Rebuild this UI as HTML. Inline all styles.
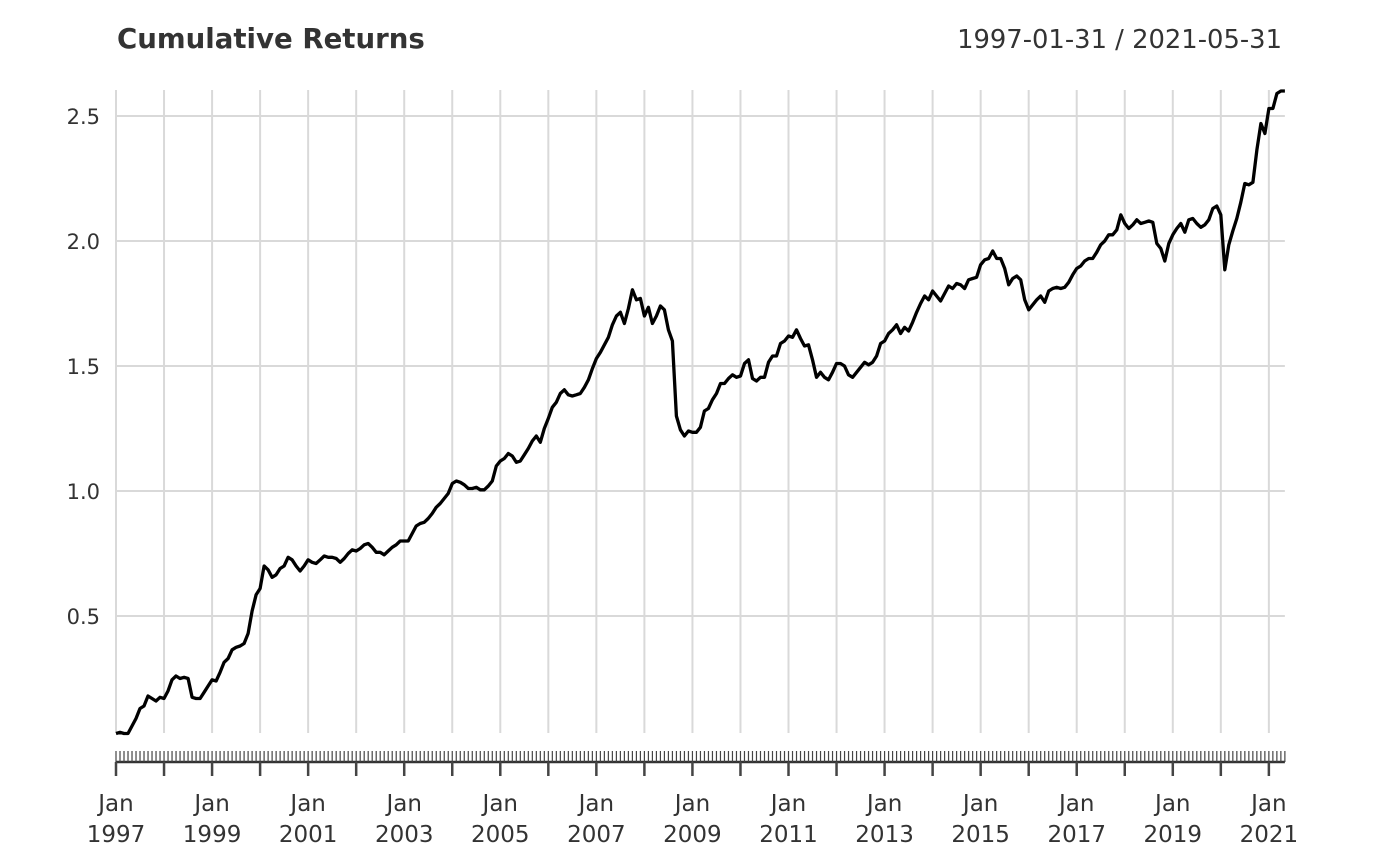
<!DOCTYPE html>
<html><head><meta charset="utf-8"><style>
html,body{margin:0;padding:0;background:#fff;}
svg{display:block;font-family:"DejaVu Sans","Liberation Sans",sans-serif;}
</style></head><body>
<svg id="chart" width="1400" height="866" viewBox="0 0 1400 866">
<text x="117" y="48" font-size="27.6" font-weight="bold" fill="#333">Cumulative Returns</text>
<text x="1282" y="48" font-size="25.8" fill="#333" text-anchor="end">1997-01-31 / 2021-05-31</text>
<g id="grid"></g><g id="yaxis"></g><g id="xaxis"></g><g id="series"></g>
</svg>
<script>
const startYear = 1997;
const yTicks = [0.5, 1.0, 1.5, 2.0, 2.5];
const yTickLabels = ["0.5", "1.0", "1.5", "2.0", "2.5"];
const xLabelYears = [1997,1999,2001,2003,2005,2007,2009,2011,2013,2015,2017,2019,2021];
const returns = [
0.03,0.035,0.03,0.03,0.06,0.09,0.13,0.14,0.18,0.17,0.16,0.175,
0.17,0.2,0.245,0.26,0.25,0.255,0.25,0.175,0.17,0.17,0.195,0.22,
0.245,0.24,0.275,0.315,0.33,0.365,0.375,0.38,0.39,0.43,0.52,0.585,
0.61,0.70,0.685,0.655,0.665,0.69,0.70,0.735,0.725,0.70,0.68,0.70,
0.725,0.715,0.71,0.725,0.74,0.735,0.735,0.73,0.715,0.73,0.75,0.765,
0.76,0.77,0.785,0.79,0.775,0.755,0.755,0.745,0.76,0.775,0.785,0.80,
0.80,0.80,0.83,0.86,0.87,0.875,0.89,0.91,0.935,0.95,0.97,0.99,
1.03,1.04,1.035,1.025,1.01,1.01,1.015,1.005,1.005,1.02,1.04,1.10,
1.12,1.13,1.15,1.14,1.115,1.12,1.145,1.17,1.20,1.22,1.195,1.25,
1.29,1.335,1.355,1.39,1.405,1.385,1.38,1.385,1.39,1.415,1.445,1.49,
1.53,1.555,1.585,1.615,1.665,1.70,1.715,1.67,1.73,1.805,1.765,1.77,
1.70,1.735,1.67,1.70,1.74,1.725,1.645,1.60,1.30,1.245,1.22,1.24,
1.235,1.235,1.255,1.32,1.33,1.365,1.39,1.43,1.43,1.45,1.465,1.455,
1.46,1.51,1.525,1.45,1.44,1.455,1.455,1.515,1.54,1.54,1.59,1.60,
1.62,1.615,1.645,1.61,1.58,1.585,1.525,1.455,1.475,1.455,1.445,1.475,
1.51,1.51,1.50,1.465,1.455,1.475,1.495,1.515,1.505,1.515,1.54,1.59,
1.60,1.63,1.645,1.665,1.63,1.655,1.64,1.675,1.715,1.75,1.78,1.765,
1.80,1.78,1.76,1.79,1.82,1.81,1.83,1.825,1.81,1.845,1.85,1.855,
1.905,1.925,1.93,1.96,1.93,1.93,1.89,1.825,1.85,1.86,1.845,1.765,
1.725,1.745,1.765,1.78,1.755,1.80,1.81,1.815,1.81,1.815,1.835,1.865,
1.89,1.90,1.92,1.93,1.93,1.955,1.985,2.00,2.025,2.025,2.045,2.105,
2.07,2.05,2.065,2.085,2.07,2.075,2.08,2.075,1.99,1.97,1.92,1.99,
2.025,2.05,2.07,2.035,2.085,2.09,2.07,2.055,2.065,2.085,2.13,2.14,
2.105,1.885,1.985,2.04,2.09,2.155,2.23,2.225,2.235,2.365,2.47,2.43,
2.53,2.53,2.59,2.60,2.60
];
const NS="http://www.w3.org/2000/svg";
const X0=116, PX_PER_MONTH=4.003, Y0=741, PX_PER_UNIT=250, TOP=90, BOT=733;
const xOf = m => X0 + m*PX_PER_MONTH;
const yOf = v => Y0 - v*PX_PER_UNIT;
const XEND = xOf(returns.length-1);
function mk(tag, parent){const e=document.createElementNS(NS,tag);parent.appendChild(e);return e;}
const grid=document.getElementById('grid'), yax=document.getElementById('yaxis'), xax=document.getElementById('xaxis'), ser=document.getElementById('series');
yTicks.forEach((v,i)=>{
  const l=mk('line',grid);
  
  
  l.setAttribute('x1',X0);l.setAttribute('x2',XEND);l.setAttribute('y1',yOf(v));l.setAttribute('y2',yOf(v));
  l.setAttribute('stroke','#d9d9d9');l.setAttribute('stroke-width','2');
  const t=mk('text',yax);
  
  
  t.setAttribute('x',100);t.setAttribute('y',yOf(v)+8);t.setAttribute('text-anchor','end');
  t.setAttribute('font-size','21');t.setAttribute('fill','#333');t.textContent=yTickLabels[i];
});
const nYears=Math.floor((returns.length-1)/12);
for(let k=0;k<=nYears;k++){
  const x=xOf(k*12);
  const l=mk('line',grid);
  
  
  l.setAttribute('x1',x);l.setAttribute('x2',x);l.setAttribute('y1',TOP);l.setAttribute('y2',BOT);
  l.setAttribute('stroke','#d9d9d9');l.setAttribute('stroke-width','2');
}
const AX=762;
const axl=mk('line',xax);


axl.setAttribute('x1',X0);axl.setAttribute('x2',XEND);axl.setAttribute('y1',AX);axl.setAttribute('y2',AX);
axl.setAttribute('stroke','#333');axl.setAttribute('stroke-width','2.5');
for(let m=0;m<returns.length;m++){
  const x=xOf(m);
  const t=mk('line',xax);
  
  
  t.setAttribute('x1',x);t.setAttribute('x2',x);t.setAttribute('y1',751);t.setAttribute('y2',AX);
  t.setAttribute('stroke','#444');t.setAttribute('stroke-width','1.2');
}
for(let k=0;k<=nYears;k++){
  const x=xOf(k*12);
  const t=mk('line',xax);
  
  
  t.setAttribute('x1',x);t.setAttribute('x2',x);t.setAttribute('y1',AX);t.setAttribute('y2',776);
  t.setAttribute('stroke','#444');t.setAttribute('stroke-width','2.5');
}
xLabelYears.forEach(yr=>{
  const x=xOf((yr-startYear)*12);
  const t1=mk('text',xax);
  
  
  t1.setAttribute('x',x);t1.setAttribute('y',811);t1.setAttribute('text-anchor','middle');
  t1.setAttribute('font-size','23');t1.setAttribute('fill','#333');t1.textContent='Jan';
  const t2=mk('text',xax);
  
  
  t2.setAttribute('x',x);t2.setAttribute('y',842);t2.setAttribute('text-anchor','middle');
  t2.setAttribute('font-size','23');t2.setAttribute('fill','#333');t2.textContent=String(yr);
});
const p=mk('path',ser);


p.setAttribute('d',returns.map((v,m)=>(m?'L':'M')+xOf(m).toFixed(1)+' '+yOf(v).toFixed(1)).join(' '));
p.setAttribute('fill','none');p.setAttribute('stroke','#000');p.setAttribute('stroke-width','3.3');p.setAttribute('stroke-linejoin','round');
</script>
</body></html>
